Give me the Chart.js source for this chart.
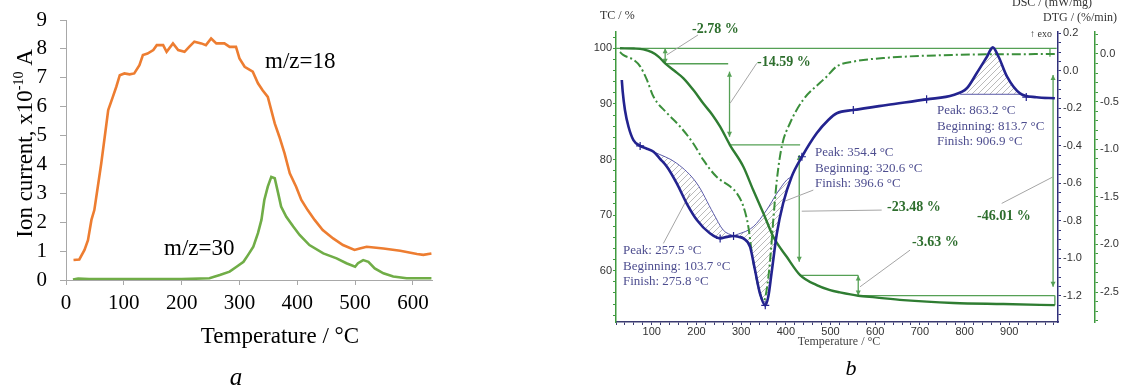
<!DOCTYPE html>
<html><head><meta charset="utf-8">
<script src="https://cdn.jsdelivr.net/npm/chart.js@4.4.1/dist/chart.umd.min.js"></script>
<style>
html,body{margin:0;padding:0;background:#fff;width:1126px;height:388px;overflow:hidden;}
#a{position:absolute;left:0;top:0;width:450px;height:388px;}
#b{position:absolute;left:580px;top:0;width:546px;height:388px;}
canvas{display:block;}
</style></head><body>
<div id="a"><canvas id="ca" width="450" height="388"></canvas></div>
<div id="b"><canvas id="cb" width="546" height="388"></canvas></div>
<script>
// ---------- Panel a data ----------
const ms18T = [13,23,32,38,44,49,55,61,67,73,81,87,93,101,110,118,127,133,141,151,157,168,174,185,194,205,213,222,234,242,251,260,274,283,294,300,309,323,332,340,349,355,361,369,378,387,398,407,418,430,444,462,479,499,508,520,549,578,607,618,632];
const ms18V = [0.69,0.71,1.04,1.38,2.08,2.42,3.23,4.04,4.96,5.88,6.34,6.69,7.09,7.15,7.12,7.15,7.44,7.79,7.84,7.96,8.13,8.13,7.9,8.19,7.96,7.9,8.07,8.25,8.19,8.13,8.36,8.19,8.19,8.07,8.07,7.67,7.38,7.21,6.81,6.57,6.34,5.88,5.42,4.96,4.38,3.69,3.23,2.77,2.42,2.08,1.73,1.44,1.21,1.04,1.09,1.15,1.09,1.01,0.9,0.87,0.92];
const ms30T = [12,21,40,80,120,160,200,248,266,283,295,307,315,324,332,338,343,349,355,361,367,372,381,393,404,421,445,468,485,500,505,514,523,534,549,566,589,632];
const ms30V = [0.02,0.05,0.03,0.03,0.03,0.03,0.03,0.06,0.17,0.29,0.46,0.63,0.87,1.15,1.62,2.08,2.77,3.23,3.57,3.52,3.0,2.54,2.19,1.85,1.56,1.21,0.92,0.75,0.58,0.46,0.58,0.69,0.63,0.4,0.23,0.12,0.06,0.06];
const xTicksA = [0,100,200,300,400,500,600];
const yTicksA = [0,1,2,3,4,5,6,7,8,9];

// ---------- Panel b data ----------
const tgT = [29,60,81,100,115,130,150,171,195,215,235,253,275,305,327,350,372,402,432,469,499,521,562,600,663,775,887,1002];
const tgV = [100,99.95,99.8,99.3,98.5,97.3,96.0,94.6,92.3,90.1,88.1,85.9,82.6,78.7,74.5,70.3,66.1,62.5,59.2,57.4,56.5,56.1,55.5,55.2,54.7,54.2,54.0,53.8];
const dtgT = [29,36,59,74,89,104,134,163,193,215,245,275,290,305,316,324,335,346,350,357,365,372,380,391,409,439,477,491,514,551,626,774,1002];
const dtgV = [0.02,-0.01,-0.06,-0.13,-0.27,-0.45,-0.62,-0.76,-0.94,-1.11,-1.29,-1.39,-1.46,-1.60,-1.81,-2.09,-2.37,-2.57,-2.60,-2.48,-2.16,-1.74,-1.32,-0.97,-0.73,-0.48,-0.30,-0.24,-0.13,-0.08,-0.04,-0.01,0.0];
const dscT = [33,35,40,48,59,74,89,104,119,134,156,178,201,230,253,268,283,295,305,320,331,342,354,361,368,380,394,413,436,469,495,514,551,626,715,775,805,827,850,863,876,895,924,961,1002];
const dscV = [-0.049,-0.111,-0.209,-0.298,-0.369,-0.40,-0.415,-0.431,-0.47,-0.511,-0.60,-0.706,-0.795,-0.866,-0.893,-0.885,-0.88,-0.885,-0.893,-0.938,-1.062,-1.186,-1.25,-1.20,-1.079,-0.866,-0.706,-0.564,-0.458,-0.333,-0.262,-0.226,-0.209,-0.182,-0.152,-0.129,-0.093,-0.013,0.075,0.125,0.075,-0.031,-0.12,-0.141,-0.146];
const dscMarkT = [74,253,283,354,436,551,715,938];
const dscMarkV = [-0.40,-0.893,-0.88,-1.25,-0.458,-0.209,-0.152,-0.14];
// peak baselines (hatched areas)
const base1T = [104,156,201,238,260,283];
const base1V = [-0.431,-0.493,-0.60,-0.76,-0.849,-0.88];
const base2T = [283,327,357,380,402,413];
const base2V = [-0.88,-0.831,-0.742,-0.653,-0.582,-0.564];
const base3T = [790,925];
const base3V = [-0.125,-0.125];
// mass-loss steps
const losses = [-2.78,-14.59,-23.48,-3.63];
const totalLoss = -46.01;
const stepLevels = [100];
losses.forEach(l => stepLevels.push(+(stepLevels[stepLevels.length-1] + l).toFixed(2)));
const stepFromT = [20,130,274,430,562];
const stepToT = [1006,271,432,562,1002];
const arrowT = [130,274,430,562,998];
const arrowTop = [100,95.8,80.8,stepLevels[3],95.2];
const arrowBot = [stepLevels[1],84.1,61.6,stepLevels[4],57.1];
const segT1 = [991,1002], segV1 = [100,stepLevels[4]], segT2 = [991,1002], segV2 = [98.5,53.8];
const leadT1 = [203.6,334.9,394.4,614.5,883,677.9,126];
const leadV1 = [102.4,97.3,72.4,70.9,72.1,63.7,64.9];
const leadT2 = [133.6,275.2,461.5,435.6,998.4,566,185.7];
const leadV2 = [98.8,90.1,74.5,70.7,76.9,57.1,73.9];

const SERIF = "'Liberation Serif','Times New Roman',serif";
const SANS = "'Liberation Sans',Arial,sans-serif";
const pts = (T,V) => T.map((t,i)=>({x:t,y:V[i]}));

// ---------- Chart a ----------
const textA = {
  id:'textA',
  afterDraw(chart){
    const ctx = chart.ctx; ctx.save();
    ctx.fillStyle = '#000'; ctx.textBaseline = 'alphabetic';
    ctx.font = '23px ' + SERIF; ctx.textAlign = 'left';
    ctx.fillText('m/z=18', 265, 68);
    ctx.fillText('m/z=30', 164, 255);
    ctx.textAlign = 'center';
    ctx.fillText('Temperature / °C', 280, 343);
    ctx.font = 'italic 25px ' + SERIF;
    ctx.fillText('a', 236, 385);
    // y title
    ctx.translate(32, 143.5); ctx.rotate(-Math.PI/2);
    const f1 = '23px ' + SERIF, f2 = '14px ' + SERIF;
    const p1 = 'Ion current, x10', p2 = '-10', p3 = ' A';
    ctx.font = f1; const w1 = ctx.measureText(p1).width, w3 = ctx.measureText(p3).width;
    ctx.font = f2; const w2 = ctx.measureText(p2).width;
    const x0 = -(w1+w2+w3)/2; ctx.textAlign = 'left';
    ctx.font = f1; ctx.fillText(p1, x0, 0);
    ctx.font = f2; ctx.fillText(p2, x0+w1, -9);
    ctx.font = f1; ctx.fillText(p3, x0+w1+w2, 0);
    ctx.restore();
  }
};
const axGrey = '#a8a8a8';
new Chart(document.getElementById('ca'), {
  type:'line',
  data:{datasets:[
    {data:pts(ms18T,ms18V), borderColor:'#ED7D31', borderWidth:2.6, pointRadius:0, tension:0, fill:false},
    {data:pts(ms30T,ms30V), borderColor:'#70AD47', borderWidth:2.6, pointRadius:0, tension:0, fill:false}
  ]},
  options:{
    responsive:false, animation:false, events:[],
    layout:{padding:{left:0,right:18,top:20,bottom:0}},
    plugins:{legend:{display:false}, tooltip:{enabled:false}},
    scales:{
      x:{type:'linear', min:0, max:633,
        afterFit:s=>{s.height=108; s.paddingLeft=0; s.paddingRight=0;},
        afterBuildTicks:s=>{s.ticks = xTicksA.map(v=>({value:v}));},
        grid:{display:true, drawOnChartArea:false, drawTicks:true, tickLength:5, color:axGrey},
        border:{display:true, color:axGrey, width:1},
        ticks:{font:{family:SERIF,size:21}, color:'#000', padding:6, maxRotation:0, autoSkip:false}},
      y:{type:'linear', min:0, max:9,
        afterFit:s=>{s.width=66; s.paddingTop=0; s.paddingBottom=0;},
        afterBuildTicks:s=>{s.ticks = yTicksA.map(v=>({value:v}));},
        grid:{display:true, drawOnChartArea:false, drawTicks:true, tickLength:6, color:axGrey},
        border:{display:true, color:axGrey, width:1},
        ticks:{font:{family:SERIF,size:21}, color:'#000', padding:13, autoSkip:false}}
    }
  },
  plugins:[textA]
});

// ---------- Chart b ----------
const cb = document.getElementById('cb');
function hatch(){
  const c = document.createElement('canvas'); c.width = 6; c.height = 6;
  const g = c.getContext('2d'); g.strokeStyle = 'rgba(90,90,90,0.6)'; g.lineWidth = 0.7;
  g.beginPath(); g.moveTo(0,6); g.lineTo(6,0); g.moveTo(-3,3); g.lineTo(3,-3); g.moveTo(3,9); g.lineTo(9,3); g.stroke();
  return cb.getContext('2d').createPattern(c,'repeat');
}
const hp = hatch();
const sub = (a,b) => pts(dscT,dscV).filter(p=>p.x>=a && p.x<=b);
const NAVY = '#23238f', GREEN = '#2f7d32', GLINE = '#55a055';

function arrowHead(ctx,x,y,dir){
  ctx.beginPath(); ctx.moveTo(x,y); ctx.lineTo(x-2.5,y-5*dir); ctx.lineTo(x+2.5,y-5*dir); ctx.closePath(); ctx.fill();
}
const annotB = {
  id:'annotB',
  beforeDatasetsDraw(chart){
    const ctx = chart.ctx, xs = chart.scales.x, ys = chart.scales.yTC;
    const X = t=>xs.getPixelForValue(t), Y = v=>ys.getPixelForValue(v);
    ctx.save();
    ctx.strokeStyle = GLINE; ctx.fillStyle = GLINE; ctx.lineWidth = 1.3;
    const ln = (x1,y1,x2,y2)=>{ctx.beginPath();ctx.moveTo(x1,y1);ctx.lineTo(x2,y2);ctx.stroke();};
    for (let i=0;i<stepLevels.length;i++) ln(X(stepFromT[i]),Y(stepLevels[i]),X(stepToT[i]),Y(stepLevels[i]));
    for (let i=0;i<arrowT.length;i++){
      const x = X(arrowT[i]), y1 = Y(arrowTop[i]), y2 = Y(arrowBot[i]);
      ln(x,y1,x,y2); arrowHead(ctx,x,y2,1); arrowHead(ctx,x,y1,-1);
    }
    for (let i=0;i<segT1.length;i++) ln(X(segT1[i]),Y(segV1[i]),X(segT2[i]),Y(segV2[i]));
    ctx.strokeStyle = '#a5a5a5'; ctx.lineWidth = 1;
    for (let i=0;i<leadT1.length;i++) ln(X(leadT1[i]),Y(leadV1[i]),X(leadT2[i]),Y(leadV2[i]));
    ctx.restore();
  },
  afterDraw(chart){
    const ctx = chart.ctx; ctx.save(); ctx.textBaseline = 'alphabetic'; ctx.textAlign = 'left';
    ctx.fillStyle = '#333';
    ctx.font = '12px ' + SERIF;
    ctx.fillText('TC / %', 20, 19);
    ctx.fillText('DSC / (mW/mg)', 432, 6);
    ctx.fillText('DTG / (%/min)', 463, 21);
    ctx.font = '10px ' + SERIF;
    ctx.fillText('↑ exo', 450, 37);
    ctx.font = '12px ' + SERIF; ctx.fillStyle = '#444'; ctx.textAlign = 'center';
    ctx.fillText('Temperature / °C', 259, 345);
    ctx.font = 'italic 22px ' + SERIF; ctx.fillStyle = '#000';
    ctx.fillText('b', 271, 375);
    ctx.textAlign = 'left';
    ctx.font = 'bold 14px ' + SERIF; ctx.fillStyle = '#2d6e2d';
    ctx.fillText(losses[0].toFixed(2)+' %', 112, 33);
    ctx.fillText(losses[1].toFixed(2)+' %', 177, 66);
    ctx.fillText(losses[2].toFixed(2)+' %', 307, 211);
    ctx.fillText(totalLoss.toFixed(2)+' %', 397, 219.5);
    ctx.fillText(losses[3].toFixed(2)+' %', 332, 246);
    ctx.font = '13px ' + SERIF; ctx.fillStyle = '#4d4d8f';
    const blk = (x,y,l)=>l.forEach((s,i)=>ctx.fillText(s,x,y+i*15.7));
    blk(235,156,['Peak: 354.4 °C','Beginning: 320.6 °C','Finish: 396.6 °C']);
    blk(357,114,['Peak: 863.2 °C','Beginning: 813.7 °C','Finish: 906.9 °C']);
    blk(43,254,['Peak: 257.5 °C','Beginning: 103.7 °C','Finish: 275.8 °C']);
    ctx.restore();
  }
};
const range = (a,b,s)=>{const r=[];for(let i=Math.round(a/s);i<=Math.round(b/s);i++)r.push(i);return r;};
new Chart(cb, {
  type:'line',
  data:{datasets:[
    {data:pts(dscT,dscV), yAxisID:'yDSC', borderColor:NAVY, borderWidth:2.6, pointRadius:0, cubicInterpolationMode:'monotone', fill:false},
    {data:pts(tgT,tgV), yAxisID:'yTC', borderColor:GREEN, borderWidth:2.4, pointRadius:0, cubicInterpolationMode:'monotone', fill:false},
    {data:pts(dtgT,dtgV), yAxisID:'yDTG', borderColor:'#3b8f3b', borderWidth:2, borderDash:[9,3,2,3], pointRadius:0, cubicInterpolationMode:'monotone', fill:false},
    {data:pts(dscMarkT,dscMarkV), yAxisID:'yDSC', showLine:false, pointStyle:'cross', pointRadius:4, borderColor:NAVY, borderWidth:1.2},
    {data:sub(104,283), yAxisID:'yDSC', borderWidth:0, borderColor:'rgba(0,0,0,0)', pointRadius:0, cubicInterpolationMode:'monotone', fill:false},
    {data:pts(base1T,base1V), yAxisID:'yDSC', borderColor:'#5a5aa8', borderWidth:1, pointRadius:0, cubicInterpolationMode:'monotone', fill:'-1', backgroundColor:hp},
    {data:sub(283,413), yAxisID:'yDSC', borderWidth:0, borderColor:'rgba(0,0,0,0)', pointRadius:0, cubicInterpolationMode:'monotone', fill:false},
    {data:pts(base2T,base2V), yAxisID:'yDSC', borderColor:'#5a5aa8', borderWidth:1, pointRadius:0, cubicInterpolationMode:'monotone', fill:'-1', backgroundColor:hp},
    {data:sub(790,925), yAxisID:'yDSC', borderWidth:0, borderColor:'rgba(0,0,0,0)', pointRadius:0, cubicInterpolationMode:'monotone', fill:false},
    {data:pts(base3T,base3V), yAxisID:'yDSC', borderColor:'#5a5aa8', borderWidth:1, pointRadius:0, fill:'-1', backgroundColor:hp}
  ]},
  options:{
    responsive:false, animation:false, events:[],
    layout:{padding:{left:0,right:0,top:32,bottom:0}},
    plugins:{legend:{display:false}, tooltip:{enabled:false}},
    scales:{
      x:{type:'linear', min:20, max:1009,
        afterFit:s=>{s.height=66;},
        afterBuildTicks:s=>{s.ticks = range(20,1000,20).map(i=>({value:i*20}));},
        grid:{display:true, drawOnChartArea:false, tickLength:3, color:'#3a3a70'},
        border:{display:true, color:'#3a3a70', width:1.5},
        ticks:{font:{family:SANS,size:11}, color:'#333', padding:0, maxRotation:0, autoSkip:false,
          callback:v=>(v%100===0 && v<=900 ? String(v) : '')}},
      yTC:{type:'linear', position:'left', min:50.77, max:102.93,
        afterFit:s=>{s.width=36;},
        afterBuildTicks:s=>{s.ticks = range(52,102,2).map(i=>({value:i*2}));},
        grid:{display:true, drawOnChartArea:false, tickLength:3, color:'#3f9a3f'},
        border:{display:true, color:'#3f9a3f', width:1.5},
        ticks:{font:{family:SANS,size:11}, color:'#333', padding:1, autoSkip:false,
          callback:v=>(Math.round(v)%10===0 ? String(Math.round(v)) : '')}},
      yDSC:{type:'linear', position:'right', min:-1.3386, max:0.2069,
        afterFit:s=>{s.width=37;},
        afterBuildTicks:s=>{s.ticks = range(-1.30,0.20,0.05).map(i=>({value:i*0.05}));},
        grid:{display:true, drawOnChartArea:false, tickLength:3, color:'#30307a'},
        border:{display:true, color:'#30307a', width:1.5},
        ticks:{font:{family:SANS,size:11}, color:'#333', padding:2, autoSkip:false,
          callback:v=>{const i=Math.round(v/0.05); return i%4===0 ? (i*0.05).toFixed(1) : '';}}},
      yDTG:{type:'linear', position:'right', min:-2.815, max:0.231,
        afterFit:s=>{s.width=31;},
        afterBuildTicks:s=>{s.ticks = range(-2.8,0.2,0.1).map(i=>({value:i*0.1}));},
        grid:{display:true, drawOnChartArea:false, tickLength:3, color:'#3f9a3f'},
        border:{display:true, color:'#3f9a3f', width:1.5},
        ticks:{font:{family:SANS,size:11}, color:'#333', padding:2, autoSkip:false,
          callback:v=>{const i=Math.round(v/0.1); return i%5===0 ? (i*0.1).toFixed(1) : '';}}}
    }
  },
  plugins:[annotB]
});
</script></body></html>
